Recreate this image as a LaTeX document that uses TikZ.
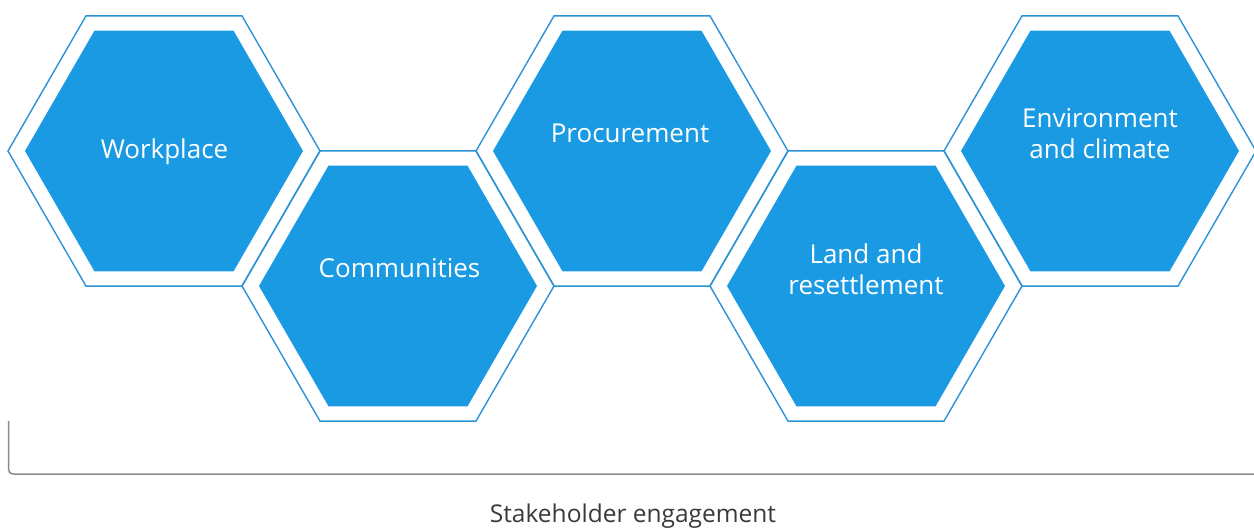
\documentclass[tikz,border=0pt]{standalone}
\usepackage{fontspec}
\setmainfont{Open Sans}
\usetikzlibrary{shapes.geometric}
\definecolor{hexblue}{HTML}{1A9AE2}
\definecolor{hexline}{HTML}{2A92D6}
\definecolor{brk}{HTML}{8A8A8A}
\definecolor{lbl}{HTML}{3A3A3A}
\tikzset{
  hexouter/.style={regular polygon, regular polygon sides=6, minimum size=312pt, inner sep=0pt, outer sep=0pt, draw=hexline, line width=1.4pt},
  hexinner/.style={regular polygon, regular polygon sides=6, minimum size=278pt, inner sep=0pt, outer sep=0pt, fill=hexblue},
  hextext/.style={text=white, font=\fontsize{26}{31}\selectfont, align=center, inner sep=0pt},
  baselabel/.style={text=lbl, font=\fontsize{24.5}{28}\selectfont, inner sep=0pt}
}
\begin{document}
\begin{tikzpicture}[x=1pt,y=-1pt]
\useasboundingbox (0,0) rectangle (1254,529);
% hexagons
\node[hexouter] (h1o) at (164,151) {};
\node[hexinner] (h1) at (164,151) {};
\node[hexouter] (h2o) at (398,286) {};
\node[hexinner] (h2) at (398,286) {};
\node[hexouter] (h3o) at (632,151) {};
\node[hexinner] (h3) at (632,151) {};
\node[hexouter] (h4o) at (866,286) {};
\node[hexinner] (h4) at (866,286) {};
\node[hexouter] (h5o) at (1100,151) {};
\node[hexinner] (h5) at (1100,151) {};
% labels
\node[hextext] (t1) at (164.5,151.5) {Workplace};
\node[hextext] (t2) at (399.5,268) {Communities};
\node[hextext] (t3) at (630,133) {Procurement};
\node[hextext] (t4) at (866,269) {Land and\\resettlement};
\node[hextext] (t5) at (1100,133.5) {Environment\\and climate};
% bracket
\coordinate (bl) at (8.5,421);
\coordinate (br) at (1254,474);
\draw[brk, line width=1.5pt] (bl) -- (8.5,466) .. controls (8.5,472) and (9.5,474) .. (14,474) -- (br);
\node[baselabel] (se) at (633,516) {Stakeholder engagement};
\end{tikzpicture}
\end{document}
